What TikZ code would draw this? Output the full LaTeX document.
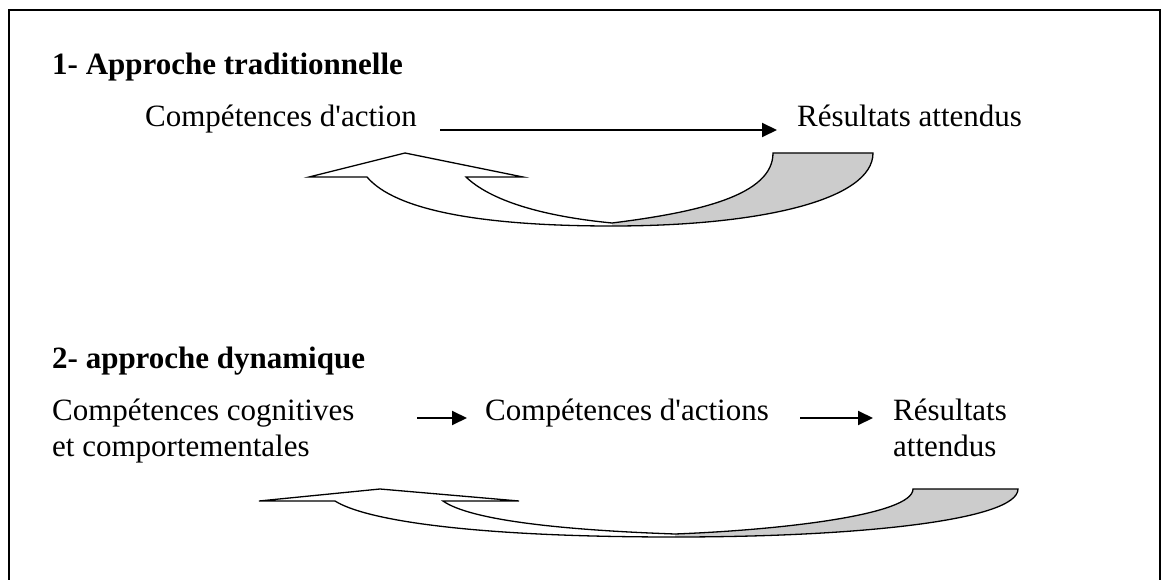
\documentclass[tikz,border=0pt]{standalone}
\usepackage{fontspec}
\setmainfont{Liberation Serif}
\usetikzlibrary{arrows.meta}
\newcommand{\apos}{\textquotesingle}
\begin{document}
\begin{tikzpicture}[x=1pt,y=-1pt,
  txt/.style={anchor=base west,inner sep=0pt,font=\fontsize{31}{36}\selectfont},
  ttl/.style={txt,font=\fontsize{31}{36}\selectfont\bfseries},
  arr/.style={line width=2pt,-{Triangle[length=15pt,width=14pt]}},
  outline/.style={line width=1.3pt,line join=miter},
  back/.style={fill=black!20}]
\useasboundingbox (0,0) rectangle (1165,580);
\fill[white] (0,0) rectangle (1165,580);
% frame
\draw[line width=1.6pt] (9,600) -- (9,10) -- (1160,10) -- (1160,600);
% section 1
\node[ttl] (t1) at (52,75) {1- Approche traditionnelle};
\node[txt] (c1) at (145,127) {Compétences d\apos action};
\node[txt] (r1) at (797,127) {Résultats attendus};
\coordinate (a1s) at (440,130);
\coordinate (a1e) at (777,130);
\draw[arr] (a1s) -- (a1e);
% curved arrow 1
\fill[back] (612,223) .. controls (700,212) and (773,195) .. (773,153) -- (873,153)
  .. controls (873,200) and (760,226) .. (612,226) -- cycle;
\draw[outline] (367,177) -- (309,177) -- (405,153) -- (523,177) -- (466,177)
  .. controls (490,200) and (540,216) .. (612,223)
  .. controls (700,212) and (773,195) .. (773,153) -- (873,153)
  .. controls (873,200) and (760,226) .. (612,226)
  .. controls (480,226) and (395,210) .. (367,177) -- cycle;
% section 2
\node[ttl] (t2) at (52,368) {2- approche dynamique};
\node[txt] (c2) at (52,420) {Compétences cognitives};
\node[txt] (c2b) at (52,456) {et comportementales};
\node[txt] (a2) at (485,420) {Compétences d\apos actions};
\node[txt] (r2) at (893,420) {Résultats};
\node[txt] (r2b) at (893,456) {attendus};
\coordinate (b1s) at (417,418);
\coordinate (b1e) at (467,418);
\coordinate (b2s) at (800,418);
\coordinate (b2e) at (873,418);
\draw[arr] (b1s) -- (b1e);
\draw[arr] (b2s) -- (b2e);
% curved arrow 2
\fill[back] (675,534) .. controls (780,530) and (913,515) .. (913,489) -- (1018,489)
  .. controls (1018,520) and (860,537) .. (675,537) -- cycle;
\draw[outline] (335,501) -- (259,501) -- (380,489) -- (519,501) -- (443,501)
  .. controls (470,520) and (560,530) .. (675,534)
  .. controls (780,530) and (913,515) .. (913,489) -- (1018,489)
  .. controls (1018,520) and (860,537) .. (675,537)
  .. controls (470,537) and (365,520) .. (335,501) -- cycle;
\end{tikzpicture}
\end{document}
